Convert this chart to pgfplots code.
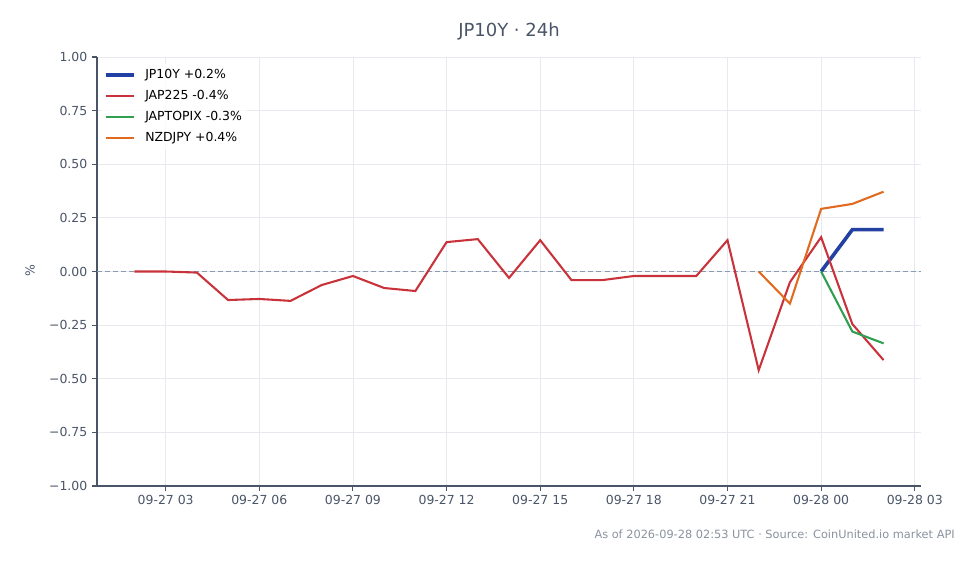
\documentclass[border=0pt]{standalone}
\usepackage{fontspec}
\setmainfont{DejaVu Sans}
\usepackage{pgfplots}
\pgfplotsset{compat=1.18}
\definecolor{txt}{HTML}{4A5568}
\definecolor{gridc}{HTML}{E6E9EE}
\definecolor{zeroc}{HTML}{8A9BB0}
\definecolor{cblue}{HTML}{2340A3}
\definecolor{cred}{HTML}{C8323A}
\definecolor{cgreen}{HTML}{2E9E50}
\definecolor{corange}{HTML}{E06A20}
\definecolor{foot}{HTML}{8A929E}
\begin{document}
\begin{tikzpicture}
\begin{axis}[
  scale only axis, width=593.28bp, height=308.88bp,
  xmin=0.8, xmax=27.2, ymin=-1, ymax=1,
  axis x line*=bottom, axis y line*=left,
  axis line style={-, draw=txt, line width=0.8pt},
  xtick={3,6,9,12,15,18,21,24,27},
  xticklabels={09-27 03,09-27 06,09-27 09,09-27 12,09-27 15,09-27 18,09-27 21,09-28 00,09-28 03},
  ytick={-1,-0.75,-0.5,-0.25,0,0.25,0.5,0.75,1},
  yticklabels={−1.00,−0.75,−0.50,−0.25,0.00,0.25,0.50,0.75,1.00},
  tick align=outside, major tick length=3.5bp,
  tick style={draw=txt, line width=0.8pt},
  ticklabel style={font=\fontsize{9}{11}\selectfont, color=txt},
  grid=major, major grid style={draw=gridc, line width=0.6pt},
  legend cell align=left,
  legend style={draw=none, fill=white, fill opacity=0.8, text opacity=1,
    at={(0.005,0.985)}, anchor=north west,
    font=\fontsize{9}{11}\selectfont, row sep=3.1pt, inner sep=2pt},
  legend image code/.code={\draw[#1] (0bp,0bp) -- (20bp,0bp); \path (25bp,0bp);},
]
\addplot[forget plot, zeroc, line width=0.8pt, dash pattern=on 3.6bp off 2.2bp]
  coordinates {(0.8,0) (27.2,0)};
\addplot[cblue, line width=2.6pt] coordinates {(24,0) (25,0.195) (26,0.195)};
\addlegendentry{JP10Y +0.2\%}
\addplot[cred, line width=1.5pt] coordinates {
(2,0.000) (3,0.000) (4,-0.005) (5,-0.133) (6,-0.128) (7,-0.137) (8,-0.063)
(9,-0.021) (10,-0.077) (11,-0.091) (12,0.137) (13,0.151) (14,-0.030)
(15,0.146) (16,-0.040) (17,-0.040) (18,-0.021) (19,-0.021) (20,-0.021)
(21,0.146) (22,-0.460) (23,-0.050) (24,0.160) (25,-0.245) (26,-0.413)};
\addlegendentry{JAP225 -0.4\%}
\addplot[cgreen, line width=1.5pt] coordinates {(24,0) (25,-0.280) (26,-0.335)};
\addlegendentry{JAPTOPIX -0.3\%}
\addplot[corange, line width=1.5pt] coordinates {(22,0) (23,-0.150) (24,0.292) (25,0.315) (26,0.372)};
\addlegendentry{NZDJPY +0.4\%}
\end{axis}
\node[txt, font=\fontsize{13}{15}\selectfont] at (296.64bp,327.6bp) {JP10Y · 24h};
\node[txt, font=\fontsize{9}{11}\selectfont, rotate=90] at (-48.24bp,154.8bp) {\%};
\node[foot, font=\fontsize{8.2}{10}\selectfont, anchor=east, inner sep=0pt] at (617.76bp,-34.56bp)
  {As of 2026-09-28 02:53 UTC · Source: CoinUnited.io market API};
\path[use as bounding box] (-69.84bp,-56.16bp) rectangle (634.32bp,349.92bp);
\end{tikzpicture}
\end{document}
